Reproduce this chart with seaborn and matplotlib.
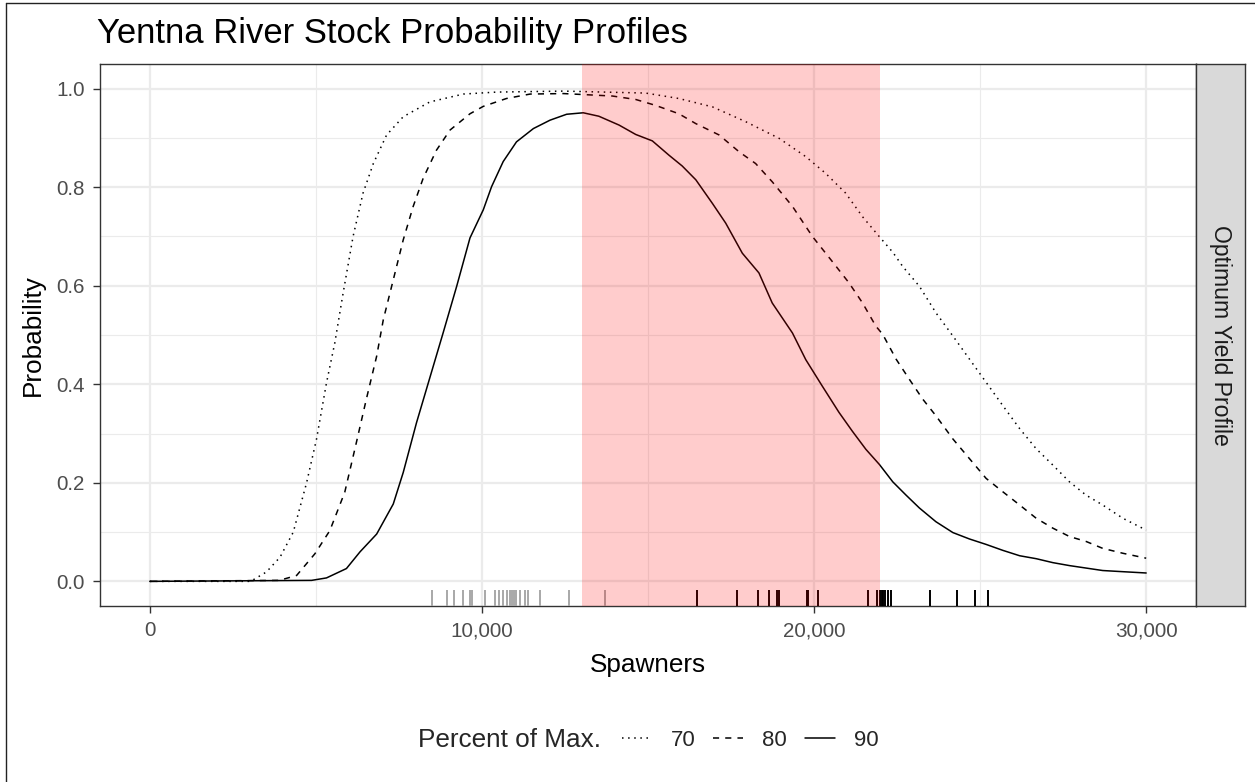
import matplotlib
matplotlib.use("Agg")
import matplotlib.pyplot as plt
import seaborn as sns
import pandas as pd
from matplotlib.lines import Line2D

# curves (spawners, probability)
x70 = [0, 3000, 3110, 3510, 3920, 4320, 4720, 5020, 5320, 5570, 5820, 6120, 6420, 6730, 7130,
       7630, 8430, 9440, 10440, 12450, 14930, 15930, 16940, 17940, 18950, 19750, 20350, 20950,
       21460, 21960, 22370, 22670, 23170, 23670, 24180, 24680, 25180, 25680, 26190, 26690,
       27190, 27690, 28190, 28690, 29300, 30000]
p70 = [0.0, 0.0, 0.003, 0.019, 0.049, 0.100, 0.200, 0.289, 0.403, 0.484, 0.585, 0.700, 0.788,
       0.848, 0.906, 0.943, 0.973, 0.989, 0.993, 0.995, 0.991, 0.980, 0.963, 0.933, 0.899,
       0.862, 0.828, 0.788, 0.740, 0.700, 0.668, 0.639, 0.599, 0.545, 0.498, 0.451, 0.404,
       0.357, 0.310, 0.269, 0.236, 0.202, 0.175, 0.155, 0.128, 0.104]

x80 = [0, 3900, 4420, 4970, 5420, 5870, 6220, 6520, 6830, 7030, 7330, 7630, 7930, 8230, 8630,
       9040, 9640, 10040, 10740, 11450, 12450, 13930, 14630, 15230, 15930, 16440, 17140, 17740,
       18240, 18740, 19350, 19950, 20550, 21050, 21460, 21860, 22070, 22470, 22870, 23270,
       23670, 24180, 24680, 25180, 25680, 26190, 26690, 27190, 27690, 28190, 28690, 29300, 30000]
p80 = [0.0, 0.002, 0.012, 0.056, 0.103, 0.181, 0.282, 0.370, 0.457, 0.531, 0.612, 0.693, 0.761,
       0.818, 0.875, 0.916, 0.949, 0.964, 0.980, 0.989, 0.990, 0.985, 0.978, 0.966, 0.949,
       0.929, 0.906, 0.872, 0.848, 0.811, 0.761, 0.700, 0.649, 0.606, 0.565, 0.518, 0.501,
       0.451, 0.410, 0.370, 0.336, 0.289, 0.249, 0.209, 0.182, 0.155, 0.128, 0.108, 0.091,
       0.081, 0.067, 0.057, 0.047]

x90 = [0, 4870, 5320, 5920, 6330, 6830, 7330, 7630, 8030, 8430, 8830, 9240, 9640, 10040, 10290,
       10640, 11040, 11550, 12050, 12550, 13050, 13520, 14130, 14630, 15130, 15630, 16030, 16440,
       16940, 17340, 17840, 18340, 18740, 19350, 19750, 20250, 20750, 21150, 21560, 21970,
       22370, 22770, 23170, 23670, 24180, 24680, 25180, 25680, 26190, 26690, 27190, 27690,
       28190, 28690, 29200, 30000]
p90 = [0.0, 0.002, 0.007, 0.026, 0.060, 0.096, 0.157, 0.221, 0.322, 0.413, 0.504, 0.599, 0.697,
       0.754, 0.801, 0.852, 0.892, 0.919, 0.936, 0.948, 0.951, 0.944, 0.926, 0.907, 0.894,
       0.865, 0.843, 0.815, 0.767, 0.727, 0.666, 0.626, 0.565, 0.504, 0.450, 0.396, 0.343,
       0.305, 0.268, 0.237, 0.202, 0.175, 0.149, 0.121, 0.099, 0.086, 0.075, 0.063, 0.052,
       0.046, 0.038, 0.032, 0.027, 0.022, 0.020, 0.017]

# observed escapements (rug)
rug_old = [8485, 8955, 9157, 9437, 9639, 9690, 10090, 10391, 10521, 10642, 10760, 10830,
           10900, 10970, 11040, 11145, 11295, 11395, 11747, 12630, 13714]
rug_new = [16486, 17672, 18304, 18645, 18877, 18937, 19780, 19828, 20111, 21630, 21890,
           22000, 22040, 22080, 22140, 22230, 22320, 23494, 24316, 24858, 25250]

goal_lo, goal_hi = 13000, 22000
levels = ["70", "80", "90"]

df = pd.concat([
    pd.DataFrame({"Spawners": x70, "Probability": p70, "pct": "70"}),
    pd.DataFrame({"Spawners": x80, "Probability": p80, "pct": "80"}),
    pd.DataFrame({"Spawners": x90, "Probability": p90, "pct": "90"}),
])

sns.set_theme(style="white")
plt.rcParams["font.family"] = ["Liberation Sans", "DejaVu Sans"]

W, H = 1255, 782
fig = plt.figure(figsize=(W / 100, H / 100), dpi=100)
ax = fig.add_axes([100 / W, (H - 606) / H, 1096 / W, 542 / H])
strip = fig.add_axes([1196 / W, (H - 606) / H, 49 / W, 542 / H])

dashes = {"70": (1, 3), "80": (4, 4), "90": ""}
sns.lineplot(data=df, x="Spawners", y="Probability", style="pct", style_order=levels,
             dashes=dashes, color="black", linewidth=1.1, legend=False, ax=ax,
             estimator=None, sort=False, zorder=3)

sns.rugplot(x=rug_old, height=0.03, color="#A8A8A8", linewidth=1.4, ax=ax, zorder=3)
sns.rugplot(x=rug_new, height=0.03, color="black", linewidth=1.4, ax=ax, zorder=3)

ax.axvspan(goal_lo, goal_hi, color="red", alpha=0.2, lw=0, zorder=4)

ax.set_xlim(-1500, 31500)
ax.set_ylim(-0.05, 1.05)
ax.set_xticks([0, 10000, 20000, 30000])
ax.set_xticklabels(["0", "10,000", "20,000", "30,000"])
ax.set_yticks([0, 0.2, 0.4, 0.6, 0.8, 1.0])
ax.set_yticklabels(["0.0", "0.2", "0.4", "0.6", "0.8", "1.0"])
ax.set_xticks([5000, 15000, 25000], minor=True)
ax.set_yticks([0.1, 0.3, 0.5, 0.7, 0.9], minor=True)
ax.grid(True, which="major", color="#EBEBEB", linewidth=1.6, zorder=0)
ax.grid(True, which="minor", color="#EBEBEB", linewidth=0.8, zorder=0)
ax.set_axisbelow(True)
ax.tick_params(which="major", direction="out", length=5, width=1, color="#333333",
               labelsize=14.9, labelcolor="#4D4D4D", pad=6, bottom=True, left=True)
ax.tick_params(which="minor", length=0)
for s in ax.spines.values():
    s.set_color("#333333")
    s.set_linewidth(1)
ax.set_xlabel("Spawners", fontsize=18.8, color="black", labelpad=9)
ax.set_ylabel("Probability", fontsize=18.8, color="black", labelpad=8)

# facet strip
strip.set_facecolor("#D9D9D9")
strip.set_xticks([])
strip.set_yticks([])
for s in strip.spines.values():
    s.set_color("#333333")
    s.set_linewidth(1)
strip.text(0.5, 0.5, "Optimum Yield Profile", rotation=-90, ha="center", va="center",
           fontsize=16.6, color="#1A1A1A", transform=strip.transAxes)

fig.text(97 / W, 1 - 34 / H, "Yentna River Stock Probability Profiles", fontsize=24.9,
         ha="left", va="center", color="black")

# legend at the bottom, title on the left like ggplot
fig.text(418 / W, 1 - 740 / H, "Percent of Max.", fontsize=18.8, ha="left", va="center")
handles = [Line2D([], [], color="black", linewidth=1.1, dashes=d) if d else
           Line2D([], [], color="black", linewidth=1.1) for d in [(1, 3), (4, 4), None]]
fig.legend(handles, levels, loc="center left", bbox_to_anchor=(622 / W, 1 - 740 / H),
           ncol=3, frameon=False, fontsize=16, handlelength=1.35, handletextpad=0.85,
           columnspacing=0.8, borderaxespad=0, borderpad=0)

# thin frame lines at the top and left edges
fig.add_artist(Line2D([6 / W, 6 / W], [0, 1 - 3 / H], color="#222222", lw=1))
fig.add_artist(Line2D([6 / W, 1], [1 - 3 / H, 1 - 3 / H], color="#222222", lw=1))

fig.savefig("out.png", dpi=100, facecolor="white")
